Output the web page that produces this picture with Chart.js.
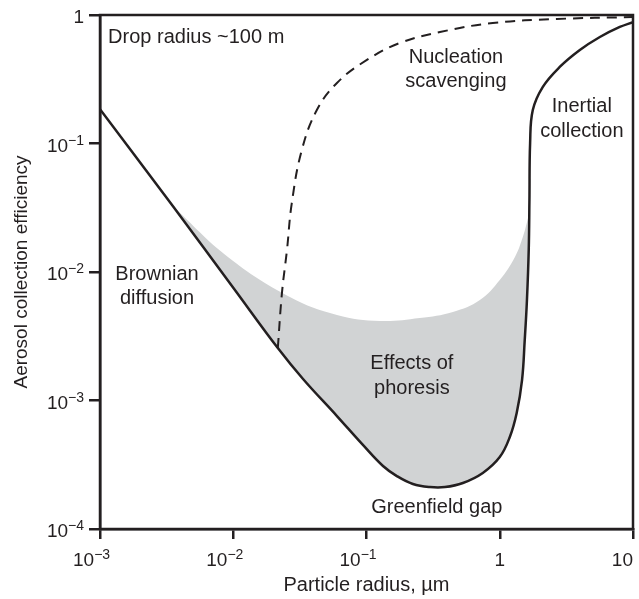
<!DOCTYPE html>
<html>
<head>
<meta charset="utf-8">
<script src="https://cdn.jsdelivr.net/npm/chart.js@4.4.1/dist/chart.umd.min.js"></script>
<style>
  html, body { margin: 0; padding: 0; background: #fff; }
</style>
</head>
<body>
<canvas id="grafico" width="639" height="599"></canvas>
<script>
// tacche degli assi: base ed esponente
var xTicks = [0.001, 0.01, 0.1, 1, 10];
var xTickBase = ['10', '10', '10', '1', '10'];
var xTickExp = ['−3', '−2', '−1', '', ''];
var yTicks = [0.0001, 0.001, 0.01, 0.1, 1];
var yTickBase = ['10', '10', '10', '10', '1'];
var yTickExp = ['−4', '−3', '−2', '−1', ''];

// curva continua (efficienza totale)
var solidX = [0.001, 0.00353, 0.01, 0.0216, 0.0334, 0.060, 0.094, 0.133, 0.169, 0.223, 0.299, 0.388, 0.529, 0.746, 1.0, 1.19, 1.34, 1.47, 1.54, 1.60, 1.65, 1.67, 1.69, 1.77, 2.10, 2.82, 3.99, 5.64, 7.96, 10];
var solidY = [0.185, 0.0325, 0.00755, 0.00256, 0.00147, 0.000757, 0.000451, 0.000309, 0.000258, 0.000224, 0.000212, 0.000212, 0.000228, 0.000273, 0.000363, 0.00052, 0.0008, 0.00144, 0.00296, 0.00606, 0.0148, 0.0363, 0.101, 0.182, 0.275, 0.394, 0.534, 0.674, 0.807, 0.88];

// curva tratteggiata (nucleation scavenging)
var dashX = [0.0216, 0.0232, 0.0253, 0.0275, 0.0327, 0.0424, 0.060, 0.1007, 0.178, 0.356, 0.887, 2.68, 10];
var dashY = [0.00256, 0.00687, 0.0148, 0.0344, 0.089, 0.182, 0.296, 0.447, 0.606, 0.737, 0.867, 0.931, 0.964];

// bordo superiore della zona grigia (foresi)
var shadeX = [0.00353, 0.00912, 0.0266, 0.060, 0.126, 0.251, 0.445, 0.709, 1.0, 1.30, 1.49, 1.64];
var shadeY = [0.0325, 0.0131, 0.00639, 0.00463, 0.00416, 0.00439, 0.00489, 0.00606, 0.00867, 0.0131, 0.0187, 0.0268];

// etichette nel grafico
var notes = [
  { text: ['Drop radius ~100 m'], x: 0.00115, y: 0.674, align: 'left' },
  { text: ['Nucleation', 'scavenging'], x: 0.469, y: 0.377, align: 'center' },
  { text: ['Inertial', 'collection'], x: 4.13, y: 0.155, align: 'center' },
  { text: ['Brownian', 'diffusion'], x: 0.00268, y: 0.0077, align: 'center' },
  { text: ['Effects of', 'phoresis'], x: 0.219, y: 0.00155, align: 'center' },
  { text: ['Greenfield gap'], x: 0.337, y: 0.000148, align: 'center' }
];

var ink = '#231f20';
var font = '"Liberation Sans", Arial, Helvetica, sans-serif';

function pts(xs, ys) {
  return xs.map(function (v, i) { return { x: v, y: ys[i] }; });
}

// testo dentro il grafico
var notePlugin = {
  id: 'notes',
  afterDatasetsDraw: function (chart) {
    var ctx = chart.ctx;
    var sx = chart.scales.x, sy = chart.scales.y;
    ctx.save();
    ctx.fillStyle = ink;
    ctx.font = '20px ' + font;
    ctx.textBaseline = 'middle';
    notes.forEach(function (n) {
      var px = sx.getPixelForValue(n.x);
      var py = sy.getPixelForValue(n.y);
      ctx.textAlign = n.align;
      for (var i = 0; i < n.text.length; i++) {
        ctx.fillText(n.text[i], px, py + (i - (n.text.length - 1) / 2) * 24.5);
      }
    });
    ctx.restore();
  }
};

// etichette delle tacche con esponente in apice
function drawPow(ctx, base, exp, left, baseline) {
  ctx.font = '19px ' + font;
  ctx.fillText(base, left, baseline);
  var wb = ctx.measureText(base).width;
  if (exp) {
    ctx.font = '14px ' + font;
    ctx.fillText(exp, left + wb, baseline - 7);
  }
}
function powWidth(ctx, base, exp) {
  ctx.font = '19px ' + font;
  var w = ctx.measureText(base).width;
  ctx.font = '14px ' + font;
  return w + (exp ? ctx.measureText(exp).width : 0);
}

var tickPlugin = {
  id: 'tickLabels',
  afterDraw: function (chart) {
    var ctx = chart.ctx, a = chart.chartArea;
    var sx = chart.scales.x, sy = chart.scales.y;
    ctx.save();
    ctx.fillStyle = ink;
    ctx.textAlign = 'left';
    ctx.textBaseline = 'alphabetic';
    xTicks.forEach(function (v, i) {
      var px = sx.getPixelForValue(v);
      var w = powWidth(ctx, xTickBase[i], xTickExp[i]);
      var left;
      if (xTickExp[i]) left = px - 27;
      else if (i === xTicks.length - 1) left = px - w;
      else left = px - w / 2;
      drawPow(ctx, xTickBase[i], xTickExp[i], left, a.bottom + 37);
    });
    yTicks.forEach(function (v, i) {
      var py = sy.getPixelForValue(v);
      var w = powWidth(ctx, yTickBase[i], yTickExp[i]);
      drawPow(ctx, yTickBase[i], yTickExp[i], a.left - 16 - w, py + 8);
    });
    ctx.restore();
  }
};

// cornice (lati alto e destro)
var framePlugin = {
  id: 'frame',
  afterDraw: function (chart) {
    var a = chart.chartArea, ctx = chart.ctx;
    ctx.save();
    ctx.strokeStyle = ink;
    ctx.lineWidth = 2.5;
    ctx.strokeRect(a.left, a.top, a.right - a.left, a.bottom - a.top);
    ctx.restore();
  }
};

new Chart(document.getElementById('grafico'), {
  type: 'line',
  data: {
    datasets: [
      {
        data: pts(solidX, solidY),
        borderColor: ink,
        borderWidth: 2.5,
        pointRadius: 0,
        tension: 0.4,
        fill: false
      },
      {
        data: pts(dashX, dashY),
        borderColor: ink,
        borderWidth: 2,
        borderDash: [10, 7],
        pointRadius: 0,
        tension: 0.4,
        fill: false
      },
      {
        data: pts(shadeX, shadeY),
        borderWidth: 0,
        borderColor: 'rgba(0,0,0,0)',
        backgroundColor: '#d1d3d4',
        pointRadius: 0,
        tension: 0.4,
        fill: '-2'
      }
    ]
  },
  options: {
    responsive: false,
    animation: false,
    layout: { padding: { top: 15, right: 6, left: 0, bottom: 0 } },
    plugins: {
      legend: { display: false },
      tooltip: { enabled: false },
      filler: { drawTime: 'beforeDatasetsDraw' }
    },
    scales: {
      x: {
        type: 'logarithmic',
        min: 0.001,
        max: 10,
        afterBuildTicks: function (s) { s.ticks = xTicks.map(function (v) { return { value: v }; }); },
        afterFit: function (s) { s.height = 70; s.paddingLeft = 0; s.paddingRight = 0; },
        ticks: { display: false },
        grid: { display: true, drawOnChartArea: false, tickLength: 10, lineWidth: 2.5, color: ink },
        border: { display: true, width: 2.5, color: ink },
        title: {
          display: true,
          text: 'Particle radius, µm',
          color: ink,
          font: { family: font, size: 20 },
          padding: { top: 0, bottom: 2 }
        }
      },
      y: {
        type: 'logarithmic',
        min: 0.0001,
        max: 1,
        afterBuildTicks: function (s) { s.ticks = yTicks.map(function (v) { return { value: v }; }); },
        afterFit: function (s) { s.width = 100; s.paddingTop = 0; s.paddingBottom = 0; },
        ticks: { display: false },
        grid: { display: true, drawOnChartArea: false, tickLength: 11, lineWidth: 2.5, color: ink },
        border: { display: true, width: 2.5, color: ink },
        title: {
          display: true,
          text: 'Aerosol collection efficiency',
          color: ink,
          font: { family: font, size: 19 },
          padding: { top: 10, bottom: 0 }
        }
      }
    }
  },
  plugins: [notePlugin, tickPlugin, framePlugin]
});
</script>
</body>
</html>
